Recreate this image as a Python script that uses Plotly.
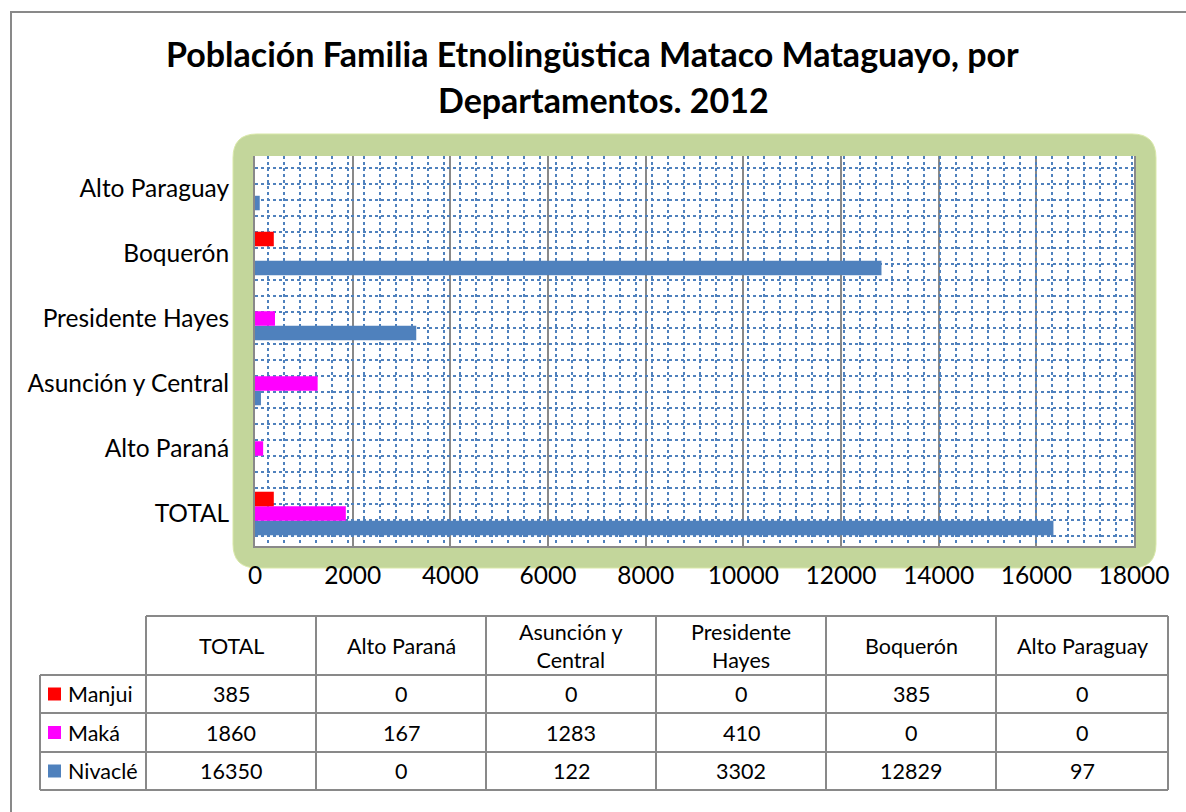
import plotly.graph_objects as go

W, H = 1186, 812

# datos
departamentos = ["TOTAL", "Alto Paraná", "Asunción y Central",
                 "Presidente Hayes", "Boquerón", "Alto Paraguay"]
encabezados = ["TOTAL", "Alto Paraná", "Asunción y<br>Central",
               "Presidente<br>Hayes", "Boquerón", "Alto Paraguay"]
manjui = [385, 0, 0, 0, 385, 0]
maka = [1860, 167, 1283, 410, 0, 0]
nivacle = [16350, 0, 122, 3302, 12829, 97]
x_ticks = [0, 2000, 4000, 6000, 8000, 10000, 12000, 14000, 16000, 18000]

# orden de dibujo: la primera serie queda abajo dentro de cada grupo
series = [("Nivaclé", nivacle, "#4F81BD"),
          ("Maká", maka, "#FF00FF"),
          ("Manjui", manjui, "#FF0000")]

FONT = "Lato"
GRIS = "#898989"


def px(x):
    return x / W


def py(y):
    return 1 - y / H


fig = go.Figure()

for nombre, valores, color in series:
    fig.add_trace(go.Bar(
        y=departamentos, x=valores, name=nombre, orientation="h",
        marker=dict(color=color, line=dict(width=0)),
        showlegend=False,
    ))

# traza vacía para las rejillas punteadas del fondo
fig.add_trace(go.Scatter(x=[], y=[], xaxis="x2", yaxis="y2",
                         showlegend=False, hoverinfo="skip"))

# área del gráfico en píxeles
L, R, T, B = 255, 1134, 156, 546

# marco verde redondeado
gx0, gx1, gy0, gy1, r = 233, 1156, 134, 568, 24
pts = [
    ("M", gx0 + r, gy0), ("L", gx1 - r, gy0), ("Q", gx1, gy0, gx1, gy0 + r),
    ("L", gx1, gy1 - r), ("Q", gx1, gy1, gx1 - r, gy1),
    ("L", gx0 + r, gy1), ("Q", gx0, gy1, gx0, gy1 - r),
    ("L", gx0, gy0 + r), ("Q", gx0, gy0, gx0 + r, gy0),
]
path = ""
for p in pts:
    cmd, coords = p[0], p[1:]
    xy = []
    for i in range(0, len(coords), 2):
        xy.append(f"{px(coords[i]):.5f},{py(coords[i + 1]):.5f}")
    path += cmd + " ".join(xy) + " "
path += "Z"

shapes = [
    dict(type="rect", xref="paper", yref="paper", x0=px(11), x1=px(1200),
         y0=py(12), y1=py(830), line=dict(color=GRIS, width=2), layer="below"),
    dict(type="path", xref="paper", yref="paper", path=path,
         fillcolor="#C3D69B", line=dict(color="#D9E8A8", width=1), layer="below"),
    dict(type="rect", xref="paper", yref="paper", x0=px(L), x1=px(R),
         y0=py(B), y1=py(T), fillcolor="white", line=dict(width=0), layer="below"),
]

tfont = dict(size=34, family=FONT, color="black")
annotations = [
    dict(text="<b>Población Familia Etnolingüstica Mataco Mataguayo, por</b>",
         x=px(592), y=py(53), xref="paper", yref="paper", showarrow=False,
         xanchor="center", yanchor="middle", font=tfont),
    dict(text="<b>Departamentos. 2012</b>",
         x=px(604), y=py(100), xref="paper", yref="paper", showarrow=False,
         xanchor="center", yanchor="middle", font=tfont),
]

# tabla de datos
cols = [40, 146, 316, 486, 656, 826, 996, 1168]
rows = [616, 675, 713, 752, 790]
tl = dict(color=GRIS, width=2)
shapes.append(dict(type="line", xref="paper", yref="paper", x0=px(cols[0]), x1=px(cols[0]),
                   y0=py(rows[1]), y1=py(rows[-1]), line=tl))
for cx in cols[1:]:
    shapes.append(dict(type="line", xref="paper", yref="paper", x0=px(cx), x1=px(cx),
                       y0=py(rows[0]), y1=py(rows[-1]), line=tl))
shapes.append(dict(type="line", xref="paper", yref="paper", x0=px(cols[1]), x1=px(cols[-1]),
                   y0=py(rows[0]), y1=py(rows[0]), line=tl))
for ry in rows[1:]:
    shapes.append(dict(type="line", xref="paper", yref="paper", x0=px(cols[0]), x1=px(cols[-1]),
                       y0=py(ry), y1=py(ry), line=tl))

tf = dict(size=21.5, family=FONT, color="black")
for j, enc in enumerate(encabezados):
    annotations.append(dict(text=enc, x=px((cols[j + 1] + cols[j + 2]) / 2),
                            y=py((rows[0] + rows[1]) / 2), xref="paper", yref="paper",
                            showarrow=False, xanchor="center", yanchor="middle", font=tf))

for i, (nombre, valores, color) in enumerate(reversed(series)):
    yc = (rows[i + 1] + rows[i + 2]) / 2
    shapes.append(dict(type="rect", xref="paper", yref="paper", x0=px(48), x1=px(61),
                       y0=py(yc + 6.5), y1=py(yc - 6.5), fillcolor=color,
                       line=dict(width=0)))
    annotations.append(dict(text=nombre, x=px(66), y=py(yc), xref="paper", yref="paper",
                            showarrow=False, xanchor="left", yanchor="middle", font=tf))
    for j, v in enumerate(valores):
        annotations.append(dict(text=str(v), x=px((cols[j + 1] + cols[j + 2]) / 2),
                                y=py(yc), xref="paper", yref="paper", showarrow=False,
                                xanchor="center", yanchor="middle", font=tf))

fig.update_layout(
    width=W, height=H, autosize=False,
    margin=dict(l=0, r=0, t=0, b=0, pad=0),
    paper_bgcolor="white", plot_bgcolor="white",
    font=dict(family=FONT, size=20, color="black"),
    barmode="group", bargap=0.33, bargroupgap=0,
    shapes=shapes, annotations=annotations,
    xaxis=dict(domain=[px(L), px(R)], range=[0, 18000], tickvals=x_ticks,
               ticktext=[str(v) for v in x_ticks], automargin=False,
               showgrid=True, gridcolor=GRIS, gridwidth=2, zeroline=False,
               showline=True, linecolor=GRIS, linewidth=2, ticks="",
               tickfont=dict(size=24.5), ticklabelstandoff=7, fixedrange=True),
    yaxis=dict(domain=[py(B), py(T)], categoryorder="array", categoryarray=departamentos,
               automargin=False, showgrid=False, showline=True, mirror=True,
               linecolor=GRIS, linewidth=2, ticks="", tickfont=dict(size=24.5),
               ticklabelstandoff=19, fixedrange=True),
    xaxis2=dict(overlaying="x", side="top", range=[L, R], tick0=267.7, dtick=16,
                automargin=False, showgrid=True, gridcolor="#4F81BD", griddash="dot",
                gridwidth=2, showticklabels=False, ticks="", showline=False,
                zeroline=False, fixedrange=True),
    yaxis2=dict(overlaying="y", side="right", range=[B, T], tick0=167.7, dtick=16,
                automargin=False, showgrid=True, gridcolor="#4F81BD", griddash="dot",
                gridwidth=2, showticklabels=False, ticks="", showline=False,
                zeroline=False, fixedrange=True),
)

fig.write_html("out.html", config={"displayModeBar": False},
               post_script="document.body.style.margin='0';")
